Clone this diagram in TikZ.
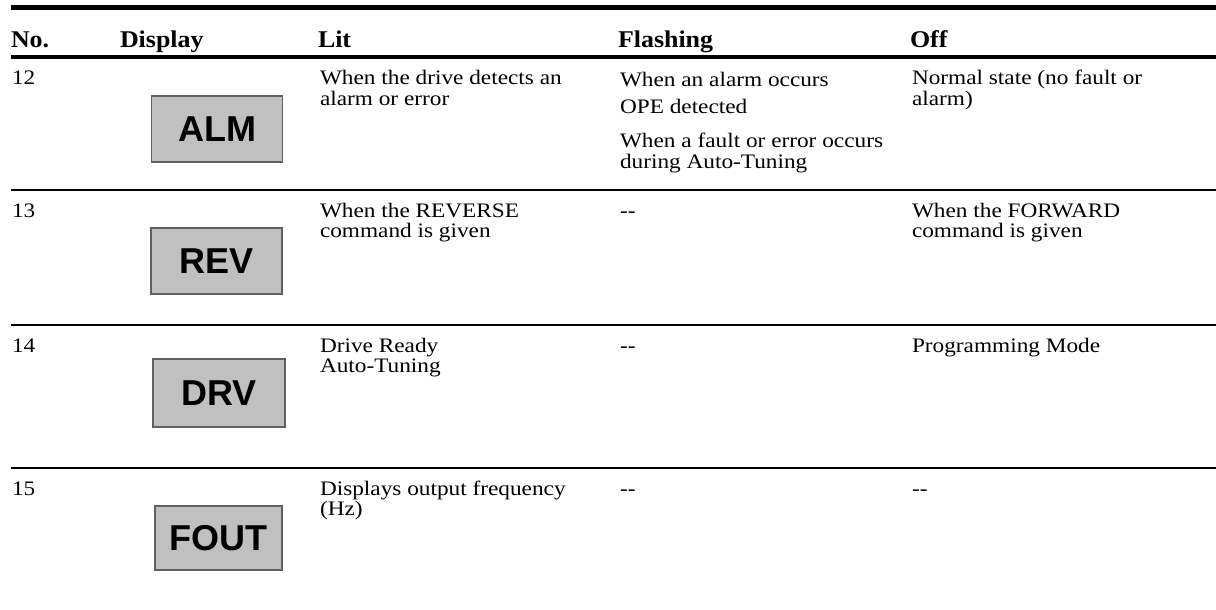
\documentclass[tikz,border=0pt]{standalone}
\usepackage{fontspec}
\setmainfont{Liberation Serif}
\newfontfamily\dispfont{Liberation Sans}
\usepackage{graphicx}
\newcommand{\bodytxt}[1]{\scalebox{1.13}[1]{\fontsize{10.3}{10}\selectfont\begin{tabular}[t]{@{}l@{}}#1\end{tabular}}}
\newcommand{\hdrtxt}[1]{\scalebox{1.08}[1]{\bfseries\fontsize{12}{14}\selectfont #1}}
\definecolor{boxfill}{HTML}{C0C0C0}
\definecolor{boxline}{HTML}{606060}
\tikzset{
  txt/.style={anchor=base west, inner sep=0pt, outer sep=0pt},
  disp/.style={draw=boxline, fill=boxfill, line width=0.6pt, minimum width=65.5pt, minimum height=33pt, inner sep=0pt, font=\dispfont\bfseries\fontsize{18}{20}\selectfont},
  thickrule/.style={line width=2.5pt},
  midrule/.style={line width=2pt},
  thinrule/.style={line width=0.75pt}
}
\begin{document}
\begin{tikzpicture}[x=0.5pt,y=-0.5pt]
\useasboundingbox (0,0) rectangle (1216,610);
% rules
\coordinate (r0a) at (11,7.5);   \coordinate (r0b) at (1216,7.5);
\coordinate (r1a) at (11,57.5);  \coordinate (r1b) at (1216,57.5);
\coordinate (r2a) at (11,190);   \coordinate (r2b) at (1216,190);
\coordinate (r3a) at (11,325);   \coordinate (r3b) at (1216,325);
\coordinate (r4a) at (11,468);   \coordinate (r4b) at (1216,468);
\draw[thickrule] (r0a) -- (r0b);
\draw[midrule] (r1a) -- (r1b);
\draw[thinrule] (r2a) -- (r2b);
\draw[thinrule] (r3a) -- (r3b);
\draw[thinrule] (r4a) -- (r4b);
% header
\node[txt] (hNo) at (11,48) {\hdrtxt{No.}};
\node[txt] (hDisp) at (120,48) {\hdrtxt{Display}};
\node[txt] (hLit) at (318,48) {\hdrtxt{Lit}};
\node[txt] (hFl) at (618,48) {\hdrtxt{Flashing}};
\node[txt] (hOff) at (910,48) {\hdrtxt{Off}};
% row 12
\node[txt] (n12) at (12,85) {\bodytxt{12}};
\node[disp] (bALM) at (217,129) {ALM};
\node[txt] (l12) at (320,85) {\bodytxt{When the drive detects an\\alarm or error}};
\node[txt] (f12a) at (620,87) {\bodytxt{When an alarm occurs}};
\node[txt] (f12b) at (620,114) {\bodytxt{OPE detected}};
\node[txt] (f12c) at (620,148) {\bodytxt{When a fault or error occurs\\during Auto-Tuning}};
\node[txt] (o12) at (912,85) {\bodytxt{Normal state (no fault or\\alarm)}};
% row 13
\node[txt] (n13) at (12,217) {\bodytxt{13}};
\node[disp] (bREV) at (216.5,261) {REV};
\node[txt] (l13) at (320,217) {\bodytxt{When the REVERSE\\command is given}};
\node[txt] (f13) at (620,217) {\bodytxt{-{}-}};
\node[txt] (o13) at (912,217) {\bodytxt{When the FORWARD\\command is given}};
% row 14
\node[txt] (n14) at (12,352) {\bodytxt{14}};
\node[disp, minimum width=66pt, minimum height=34pt] (bDRV) at (219,393) {DRV};
\node[txt] (l14) at (320,352) {\bodytxt{Drive Ready\\Auto-Tuning}};
\node[txt] (f14) at (620,352) {\bodytxt{-{}-}};
\node[txt] (o14) at (912,352) {\bodytxt{Programming Mode}};
% row 15
\node[txt] (n15) at (12,495) {\bodytxt{15}};
\node[disp, minimum width=63.5pt, minimum height=32pt] (bFOUT) at (218.5,538) {FOUT};
\node[txt] (l15) at (320,495) {\bodytxt{Displays output frequency\\(Hz)}};
\node[txt] (f15) at (620,495) {\bodytxt{-{}-}};
\node[txt] (o15) at (912,495) {\bodytxt{-{}-}};
\end{tikzpicture}
\end{document}
